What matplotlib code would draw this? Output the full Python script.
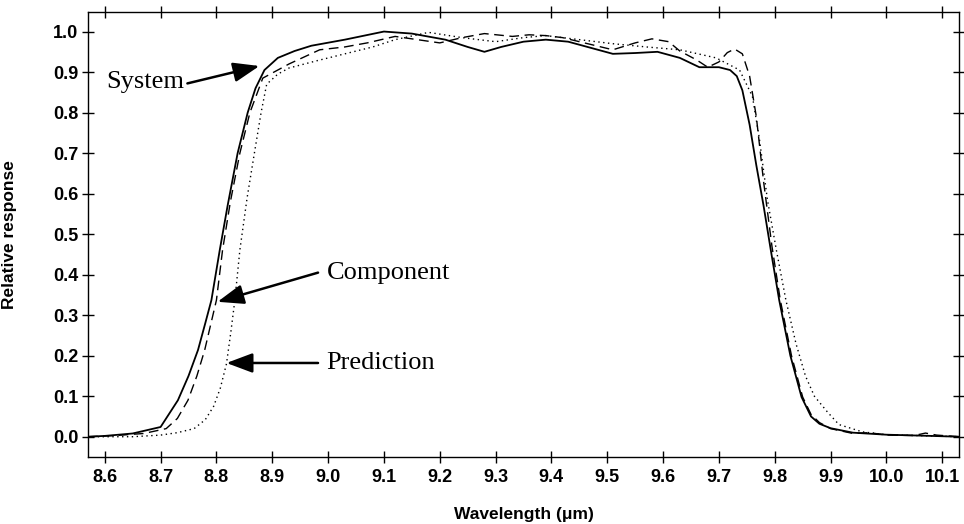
import matplotlib
matplotlib.use("Agg")
import matplotlib.pyplot as plt

# ---------------- data ----------------
sys_w = [8.57, 8.60, 8.65, 8.70, 8.731, 8.75, 8.767, 8.78, 8.791, 8.806, 8.82, 8.838, 8.856, 8.87,
         8.886, 8.91, 8.94, 8.97, 9.03, 9.10, 9.15, 9.21, 9.25, 9.28, 9.31, 9.35, 9.39, 9.43,
         9.47, 9.51, 9.55, 9.59, 9.63, 9.665, 9.70, 9.72, 9.732, 9.742, 9.755, 9.767, 9.78, 9.793,
         9.808, 9.828, 9.848, 9.865, 9.88, 9.90, 9.94, 10.0, 10.08, 10.13]
sys_r = [0.0, 0.002, 0.008, 0.024, 0.09, 0.15, 0.214, 0.28, 0.337, 0.461, 0.57, 0.70, 0.80, 0.86,
         0.905, 0.935, 0.952, 0.965, 0.98, 1.0, 0.995, 0.98, 0.962, 0.95, 0.962, 0.975, 0.98, 0.975,
         0.96, 0.945, 0.947, 0.95, 0.935, 0.912, 0.912, 0.905, 0.89, 0.855, 0.77, 0.67, 0.57, 0.46,
         0.337, 0.20, 0.098, 0.05, 0.032, 0.021, 0.01, 0.005, 0.002, 0.0]

comp_w = [8.57, 8.62, 8.67, 8.71, 8.73, 8.749, 8.765, 8.779, 8.80, 8.811, 8.825, 8.842, 8.86, 8.883, 8.93,
          8.985, 9.03, 9.07, 9.12, 9.16, 9.20, 9.24, 9.28, 9.33, 9.36, 9.39, 9.42, 9.45, 9.48,
          9.51, 9.55, 9.58, 9.61, 9.63, 9.66, 9.68, 9.70, 9.715, 9.728, 9.742, 9.755, 9.767, 9.78, 9.795,
          9.81, 9.83, 9.85, 9.865, 9.88, 9.90, 9.94, 9.97, 10.0, 10.05, 10.07, 10.09, 10.13]
comp_r = [0.0, 0.003, 0.008, 0.02, 0.045, 0.09, 0.15, 0.214, 0.337, 0.461, 0.58, 0.70, 0.80, 0.885, 0.92,
          0.955, 0.962, 0.972, 0.988, 0.98, 0.972, 0.985, 0.995, 0.988, 0.992, 0.99, 0.985, 0.975, 0.965,
          0.955, 0.972, 0.982, 0.975, 0.952, 0.93, 0.912, 0.925, 0.948, 0.957, 0.945, 0.89, 0.79, 0.63, 0.47,
          0.337, 0.20, 0.098, 0.055, 0.035, 0.02, 0.008, 0.01, 0.004, 0.003, 0.009, 0.004, 0.0]

pred_w = [8.57, 8.65, 8.70, 8.73, 8.76, 8.78, 8.795, 8.807, 8.818, 8.826, 8.833, 8.842, 8.855, 8.868,
          8.88, 8.89, 8.91, 8.93, 8.98, 9.03, 9.08, 9.12, 9.18, 9.24, 9.30, 9.35, 9.39, 9.45, 9.51,
          9.57, 9.63, 9.695, 9.737, 9.76, 9.772, 9.787, 9.803, 9.82, 9.838, 9.855, 9.871,
          9.895, 9.915, 9.957, 10.0, 10.13]
pred_r = [0.0, 0.0, 0.004, 0.01, 0.02, 0.042, 0.075, 0.12, 0.18, 0.26, 0.337, 0.461, 0.59, 0.70,
          0.80, 0.87, 0.895, 0.91, 0.928, 0.945, 0.962, 0.98, 0.998, 0.985, 0.975, 0.985, 0.99, 0.98, 0.97,
          0.962, 0.955, 0.935, 0.905, 0.84, 0.74, 0.584, 0.46, 0.337, 0.23, 0.15, 0.10,
          0.06, 0.03, 0.012, 0.005, 0.0]

x_ticks = [8.6, 8.7, 8.8, 8.9, 9.0, 9.1, 9.2, 9.3, 9.4, 9.5, 9.6, 9.7, 9.8, 9.9, 10.0, 10.1]
y_ticks = [0.0, 0.1, 0.2, 0.3, 0.4, 0.5, 0.6, 0.7, 0.8, 0.9, 1.0]

annotations = [  # label, text position, arrow tail, arrow tip
    ("System", (8.603, 0.875), (8.748, 0.872), (8.877, 0.915)),
    ("Component", (8.997, 0.405), (8.982, 0.405), (8.802, 0.333)),
    ("Prediction", (8.997, 0.183), (8.982, 0.182), (8.818, 0.182)),
]

# ---------------- figure ----------------
fig = plt.figure(figsize=(9.64, 5.24), dpi=100)
ax = fig.add_axes([0.0913, 0.1279, 0.9035, 0.849])

ax.plot(sys_w, sys_r, color="black", lw=1.3, ls="-")
ax.plot(comp_w, comp_r, color="black", lw=1.0, ls=(0, (7, 4)))
ax.plot(pred_w, pred_r, color="black", lw=1.0, ls=(0, (1, 2.5)))

ax.set_xlim(8.57, 10.13)
ax.set_ylim(-0.05, 1.048)
ax.set_xticks(x_ticks)
ax.set_xticklabels([f"{t:.1f}" for t in x_ticks])
ax.set_yticks(y_ticks)
ax.set_yticklabels([f"{t:.1f}" for t in y_ticks])

ax.tick_params(axis="both", which="both", direction="inout", length=8, width=1.0,
               top=True, right=True, labeltop=False, labelright=False)
ax.tick_params(axis="x", pad=5)
ax.tick_params(axis="y", pad=3)
for lab in ax.get_xticklabels() + ax.get_yticklabels():
    lab.set_fontfamily("Liberation Sans")
    lab.set_fontweight("bold")
    lab.set_fontsize(13)
for sp in ax.spines.values():
    sp.set_linewidth(1.0)

ax.set_xlabel("Wavelength (\u03bcm)", fontfamily="Liberation Sans", fontweight="bold", fontsize=12.5)
ax.set_ylabel("Relative response", fontfamily="Liberation Sans", fontweight="bold", fontsize=12.5)
ax.xaxis.set_label_coords(0.5, -0.112)
ax.yaxis.set_label_coords(-0.081, 0.5)

for label, tpos, tail, tip in annotations:
    ax.text(tpos[0], tpos[1], label, fontfamily="Liberation Serif", fontsize=19,
            ha="left", va="center")
    ax.annotate("", xy=tip, xytext=tail,
                arrowprops=dict(arrowstyle="-|>,head_length=1.6,head_width=0.6",
                                color="black", lw=1.8, shrinkA=0, shrinkB=0))

fig.savefig("out.png", dpi=100)
